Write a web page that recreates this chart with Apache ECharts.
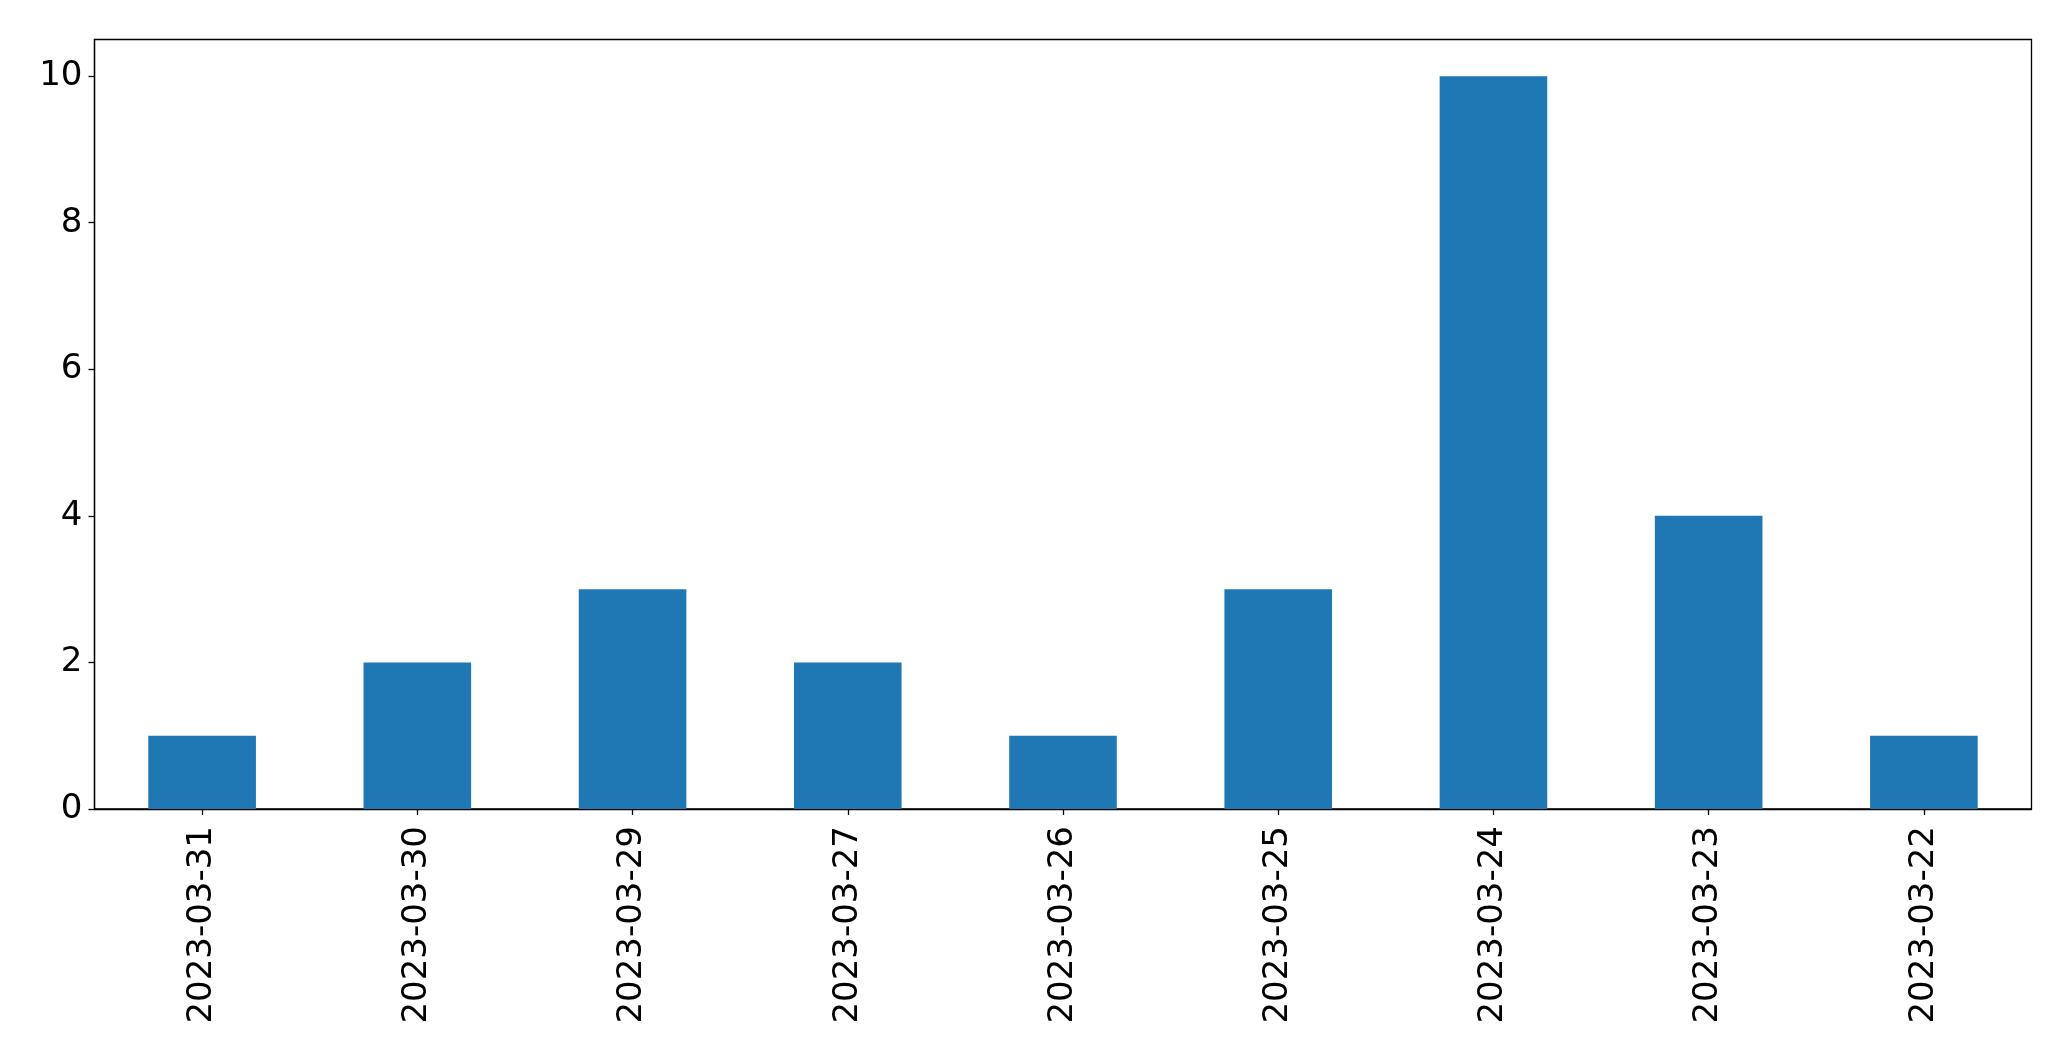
<!DOCTYPE html>
<html>
<head>
<meta charset="utf-8">
<script src="https://cdn.jsdelivr.net/npm/echarts@6/dist/echarts.min.js"></script>
<style>html,body{margin:0;padding:0;background:#fff;}#chart{width:2071px;height:1061px;}</style>
</head>
<body>
<div id="chart"></div>
<script>
const categories = ["2023-03-31","2023-03-30","2023-03-29","2023-03-27","2023-03-26","2023-03-25","2023-03-24","2023-03-23","2023-03-22"];
const values = [1, 2, 3, 2, 1, 3, 10, 4, 1];
const yTicks = [0, 2, 4, 6, 8, 10];

const chart = echarts.init(document.getElementById('chart'), null, {renderer: 'canvas'});
const font = 'DejaVu Sans';
chart.setOption({
  animation: false,
  backgroundColor: '#ffffff',
  grid: {
    left: 94.5, right: 39.5, top: 39.5, bottom: 252,
    show: true, borderColor: '#000', borderWidth: 1.3, backgroundColor: 'transparent'
  },
  xAxis: {
    type: 'category',
    data: categories,
    boundaryGap: true,
    axisLine: {show: true, lineStyle: {color: '#000', width: 1.3}},
    axisTick: {show: true, alignWithLabel: true, length: 6, lineStyle: {color: '#000', width: 1.3}},
    axisLabel: {rotate: 90, margin: 17, color: '#000', fontFamily: font, fontSize: 34, interval: 0},
    splitLine: {show: false}
  },
  yAxis: {
    type: 'value',
    min: 0, max: 10.5, interval: 2,
    axisLine: {show: true, lineStyle: {color: '#000', width: 1.3}},
    axisTick: {show: true, length: 6, customValues: yTicks, lineStyle: {color: '#000', width: 1.3}},
    axisLabel: {margin: 12, color: '#000', fontFamily: font, fontSize: 34, customValues: yTicks},
    splitLine: {show: false}
  },
  series: [{
    type: 'bar',
    data: values,
    barWidth: '50%',
    itemStyle: {color: '#1f77b4'}
  }]
});
</script>
</body>
</html>
